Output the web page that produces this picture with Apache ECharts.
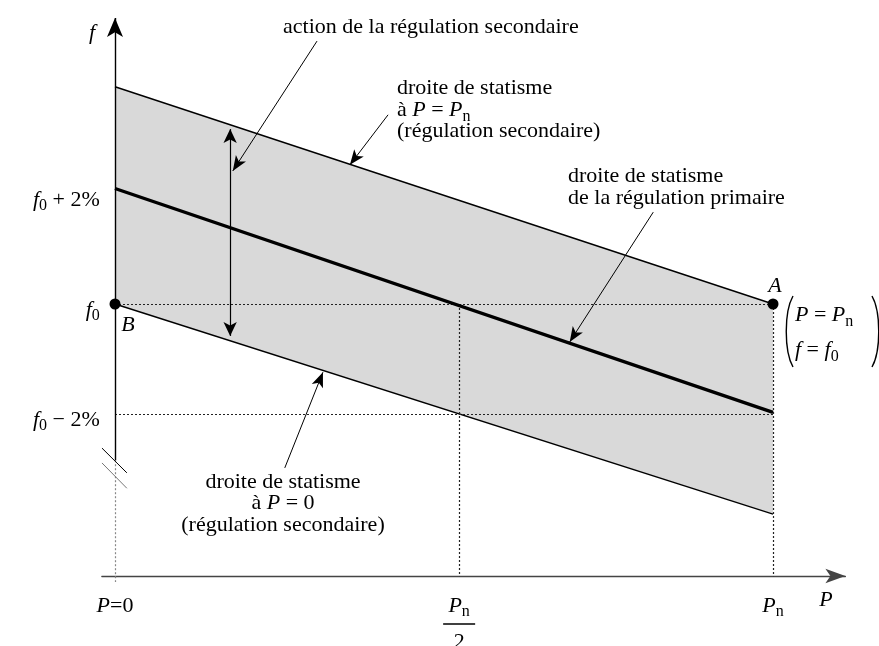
<!DOCTYPE html>
<html>
<head>
<meta charset="utf-8">
<script src="https://cdn.jsdelivr.net/npm/echarts@6/dist/echarts.min.js"></script>
<style>
  html, body { margin: 0; padding: 0; background: #fff; }
  #chart { width: 879px; height: 646px; }
</style>
</head>
<body>
<div id="chart"></div>
<script>
// Power in units of Pn, frequency as deviation from f0 in %
const powerPoints  = [0, 1];
const upperDroop   = [3.95, 0.0];   // droite de statisme à P = Pn
const primaryDroop = [2.1, -1.97];  // droite de statisme de la régulation primaire
const lowerDroop   = [0.0, -3.82];  // droite de statisme à P = 0

const pointA = [1, 0];
const pointB = [0, 0];

const xTickValues = [0, 0.523, 1];
const xTickLabels = ['{i|P}{r|=0}', '{i|P}{s|n}\n{bar| }\n{r|2}', '{i|P}{s|n}'];
const yTickValues = [2, 0, -2];
const yTickLabels = ['{i|f}{s|0}{r| + 2%}', '{i|f}{s|0}', '{i|f}{s|0}{r| − 2%}'];

const SERIF = 'Liberation Serif';
const richMath = {
  i:   { fontFamily: SERIF, fontStyle: 'italic', fontSize: 22, lineHeight: 26, color: '#000' },
  r:   { fontFamily: SERIF, fontSize: 22, lineHeight: 26, color: '#000' },
  s:   { fontFamily: SERIF, fontSize: 16, lineHeight: 12, verticalAlign: 'top', padding: [11, 0, 0, 0], color: '#000' },
  bar: { width: 32, height: 1.5, lineHeight: 10, backgroundColor: '#000', fontSize: 1 }
};
const richText = {
  i: { fontFamily: SERIF, fontStyle: 'italic', fontSize: 22, lineHeight: 21.5, color: '#000' },
  s: { fontFamily: SERIF, fontSize: 16, lineHeight: 8, verticalAlign: 'top', padding: [9.5, 0, 0, 0], color: '#000' }
};

const toPairs = (ys) => powerPoints.map((p, k) => [p, ys[k]]);

const seg = (a, b, style, symA, symB, size) => [
  { coord: a, symbol: symA || 'none', symbolSize: size || [9, 15], lineStyle: style },
  { coord: b, symbol: symB || 'none', symbolSize: size || [9, 15] }
];

const solid  = { color: '#000', width: 1.4, type: 'solid' };
const thin   = { color: '#000', width: 1, type: 'solid' };
const dotted = { color: '#222', width: 1.2, type: [2, 2] };
const grayDotted = { color: '#888', width: 1.2, type: [2, 2] };

const markLineBase = {
  silent: true,
  animation: false,
  label: { show: false },
  emphasis: { disabled: true }
};

const textStyle = (extra) => Object.assign({
  fontFamily: SERIF, fontSize: 22, fill: '#000'
}, extra);

const Y_MIN = -5.0545;
const Y_AXIS = -4.95;   // level of the power axis

const chart = echarts.init(document.getElementById('chart'), null, { renderer: 'canvas' });

chart.setOption({
  animation: false,
  backgroundColor: '#fff',
  grid: { left: 101.84, right: 33.6, top: 17.75, bottom: 64, outerBoundsMode: 'none', containLabel: false },
  xAxis: {
    type: 'value', min: -0.02, max: 1.11,
    offset: -6,
    axisLine: { show: true, onZero: false, symbol: ['none', 'arrow'], symbolSize: [11, 20],
                lineStyle: { color: '#444', width: 1.3 } },
    axisTick: { show: false },
    splitLine: { show: false },
    axisLabel: {
      customValues: xTickValues,
      margin: 17,
      formatter: (v) => xTickLabels[xTickValues.indexOf(v)] || '',
      rich: richMath
    }
  },
  yAxis: {
    type: 'value', min: Y_MIN, max: 5.2045,
    axisLine: { show: false },
    axisTick: { show: false },
    splitLine: { show: false },
    axisLabel: {
      customValues: yTickValues,
      margin: 2,
      padding: [12, 0, 0, 0],
      formatter: (v) => yTickLabels[yTickValues.indexOf(v)] || '',
      rich: richMath
    }
  },
  series: [
    {
      // shaded band between the two secondary-control droop lines
      type: 'custom',
      silent: true,
      z: 1,
      data: [[0, 0]],
      renderItem: (params, api) => {
        const pts = powerPoints.map((p, k) => api.coord([p, upperDroop[k]]));
        for (let k = powerPoints.length - 1; k >= 0; k--) {
          pts.push(api.coord([powerPoints[k], lowerDroop[k]]));
        }
        return { type: 'polygon', shape: { points: pts }, style: { fill: '#d9d9d9' } };
      }
    },
    {
      type: 'line', z: 3, clip: false, silent: true,
      data: [],
      markLine: Object.assign({}, markLineBase, {
        data: [
          // guide lines
          seg([0, 0], [1, 0], dotted),
          seg([0, -2], [1, -2], dotted),
          seg([xTickValues[1], 0], [xTickValues[1], Y_AXIS], dotted),
          seg([1, 0], [1, Y_AXIS], dotted),
          seg([0, -2.84], [0, Y_MIN], grayDotted)
        ]
      })
    },
    {
      type: 'line', z: 4, clip: false, silent: true, symbol: 'none',
      data: toPairs(upperDroop),
      lineStyle: { color: '#000', width: 1.4 }
    },
    {
      type: 'line', z: 4, clip: false, silent: true, symbol: 'none',
      data: toPairs(lowerDroop),
      lineStyle: { color: '#000', width: 1.4 }
    },
    {
      type: 'line', z: 5, clip: false, silent: true, symbol: 'none',
      data: toPairs(primaryDroop),
      lineStyle: { color: '#000', width: 3.4 }
    },
    {
      type: 'line', z: 6, clip: false, silent: true,
      data: [],
      markLine: Object.assign({}, markLineBase, {
        data: [
          // frequency axis with break marks
          seg([0, -2.84], [0, 5.2], solid, 'none', 'arrow', [12, 19]),
          seg([-0.0198, -2.62], [0.018, -3.07], thin),
          seg([-0.0198, -2.89], [0.018, -3.35], { color: '#777', width: 1, type: 'solid' }),
          // range of the secondary control
          seg([0.175, -0.58], [0.175, 3.18], { color: '#000', width: 1.2, type: 'solid' }, 'arrow', 'arrow', [10, 14]),
          // pointers from the captions
          seg([0.307, 4.78], [0.179, 2.42], thin, 'none', 'arrow'),
          seg([0.415, 3.44], [0.357, 2.53], thin, 'none', 'arrow'),
          seg([0.818, 1.67], [0.691, -0.69], thin, 'none', 'arrow'),
          seg([0.258, -2.98], [0.316, -1.24], thin, 'none', 'arrow')
        ]
      })
    },
    {
      type: 'scatter', z: 8, silent: true,
      symbolSize: 11,
      itemStyle: { color: '#000', opacity: 1 },
      label: {
        show: true, formatter: '{b}', color: '#000',
        fontFamily: SERIF, fontStyle: 'italic', fontSize: 22
      },
      data: [
        { name: 'A', value: pointA, label: { position: 'top', distance: 1, offset: [2, 0] } },
        { name: 'B', value: pointB, label: { position: 'bottom', distance: 5, offset: [13, 0] } }
      ]
    }
  ],
  graphic: [
    { type: 'text', x: 92, y: 33, style: textStyle({ text: 'f', fontStyle: 'italic', align: 'center', verticalAlign: 'middle' }) },
    { type: 'text', x: 826, y: 600, style: textStyle({ text: 'P', fontStyle: 'italic', align: 'center', verticalAlign: 'middle' }) },
    { type: 'text', x: 283, y: 27, style: textStyle({ text: 'action de la régulation secondaire', align: 'left', verticalAlign: 'middle' }) },
    { type: 'text', x: 397, y: 77.5, style: textStyle({ text: 'droite de statisme\nà {i|P} = {i|P}{s|n}\n(régulation secondaire)', rich: richText, lineHeight: 21.5, align: 'left', verticalAlign: 'top' }) },
    { type: 'text', x: 568, y: 165.5, style: textStyle({ text: 'droite de statisme\nde la régulation primaire', lineHeight: 21.5, align: 'left', verticalAlign: 'top' }) },
    { type: 'text', x: 283, y: 471, style: textStyle({ text: 'droite de statisme\nà {i|P} = 0\n(régulation secondaire)', rich: richText, lineHeight: 21.5, align: 'center', verticalAlign: 'top' }) },
    { type: 'text', x: 795, y: 315, style: textStyle({ text: '{i|P} = {i|P}{s|n}', rich: richText, lineHeight: 21.5, align: 'left', verticalAlign: 'middle' }) },
    { type: 'text', x: 795, y: 350, style: textStyle({ text: '{i|f} = {i|f}{s|0}', rich: richText, lineHeight: 21.5, align: 'left', verticalAlign: 'middle' }) },
    { type: 'bezierCurve', shape: { x1: 793, y1: 296, cpx1: 784, cpy1: 312, cpx2: 784, cpy2: 351, x2: 793, y2: 367 }, style: { fill: null, stroke: '#000', lineWidth: 1.4 } },
    { type: 'bezierCurve', shape: { x1: 872, y1: 296, cpx1: 881, cpy1: 312, cpx2: 881, cpy2: 351, x2: 872, y2: 367 }, style: { fill: null, stroke: '#000', lineWidth: 1.4 } }
  ]
});
</script>
</body>
</html>
